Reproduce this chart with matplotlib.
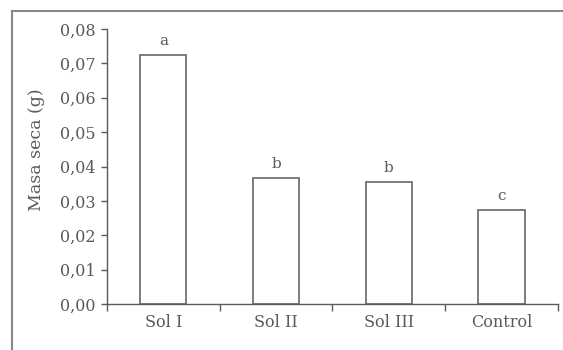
import matplotlib
matplotlib.use('Agg')
import matplotlib.pyplot as plt
from matplotlib.lines import Line2D
from matplotlib.ticker import FuncFormatter

# data
categories = ['Sol I', 'Sol II', 'Sol III', 'Control']
masa_seca = [0.0725, 0.0367, 0.0355, 0.0273]
letters = ['a', 'b', 'b', 'c']

gray = '#5a5a5a'
plt.rcParams['font.family'] = ['DejaVu Serif']
plt.rcParams['font.size'] = 11

fig = plt.figure(figsize=(5.63, 3.5), dpi=100)
ax = fig.add_axes([0.190, 0.131, 0.801, 0.786])

xvals = list(range(len(categories)))
ax.bar(xvals, masa_seca, 0.41, color='white', edgecolor='#666666', linewidth=1.2)

for x, v, l in zip(xvals, masa_seca, letters):
    ax.text(x, v + 0.002, l, ha='center', va='bottom', color=gray, fontsize=11)

ax.set_xlim(-0.5, len(categories) - 0.5)
ax.set_ylim(0, 0.08)
ax.set_yticks([i * 0.01 for i in range(9)])
ax.yaxis.set_major_formatter(FuncFormatter(lambda v, p: ('%.2f' % v).replace('.', ',')))
ax.set_xticks(xvals)
ax.set_xticklabels(categories)
ax.set_xticks([x - 0.5 for x in xvals] + [len(categories) - 0.5], minor=True)
ax.tick_params(axis='x', which='major', length=0, pad=7, colors=gray, labelsize=11.5)
ax.tick_params(axis='x', which='minor', length=5, width=1, color=gray, direction='out')
ax.tick_params(axis='y', length=4, width=1, color=gray, labelcolor=gray, labelsize=11.5, pad=4)
ax.set_ylabel('Masa seca (g)', color=gray, fontsize=12.5)
ax.yaxis.set_label_coords(-0.137, 0.56)

for s in ['top', 'right']:
    ax.spines[s].set_visible(False)
for s in ['left', 'bottom']:
    ax.spines[s].set_color(gray)
    ax.spines[s].set_linewidth(1)

# outer frame (left and top edges)
fx = 12 / 563
fy = 1 - 11 / 350
fig.add_artist(Line2D([fx, fx], [0, fy], transform=fig.transFigure, color='#888888', lw=1.5))
fig.add_artist(Line2D([fx, 1], [fy, fy], transform=fig.transFigure, color='#888888', lw=1.5))

fig.savefig('out.png', dpi=100)
